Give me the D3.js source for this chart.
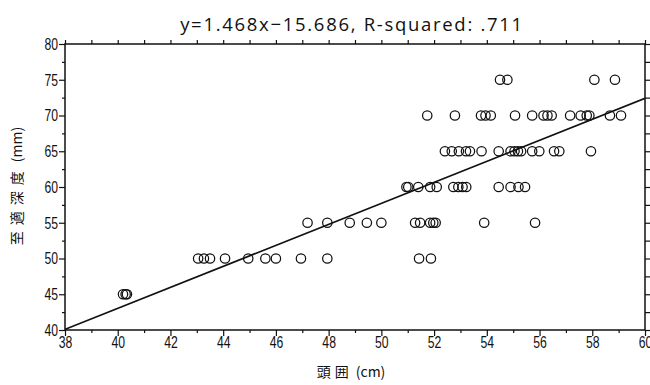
<!DOCTYPE html>
<html>
<head>
<meta charset="utf-8">
<script src="https://cdn.jsdelivr.net/npm/d3@7"></script>
<style>
  body { margin: 0; background: #fff; }
</style>
</head>
<body>
<svg id="chart" width="650" height="385"></svg>
<script>
// head circumference (cm) at each depth level (mm)
var depth45 = [40.2, 40.3, 40.35];
var depth50 = [43.05, 43.27, 43.5, 44.07, 44.95, 45.6, 46.0, 46.95, 47.95, 51.43, 51.88];
var depth55 = [47.2, 47.95, 48.8, 49.45, 50.0, 51.28, 51.47, 51.85, 51.97, 52.06, 53.9, 55.83];
var depth60 = [50.95, 51.02, 51.4, 51.85, 52.1, 52.73, 52.92, 53.08, 53.22, 54.45, 54.9, 55.2, 55.45];
var depth65 = [52.41, 52.67, 52.94, 53.21, 53.36, 53.8, 54.45, 54.9, 55.05, 55.18, 55.3, 55.72, 55.99, 56.55, 56.75, 57.95];
var depth70 = [51.74, 52.79, 53.78, 53.95, 54.15, 55.07, 55.72, 56.15, 56.3, 56.46, 57.16, 57.56, 57.79, 57.89, 58.67, 59.09];
var depth75 = [54.5, 54.78, 58.08, 58.86];

var depthLevels = [45, 50, 55, 60, 65, 70, 75];
var headByDepth = [depth45, depth50, depth55, depth60, depth65, depth70, depth75];

var slope = 1.468, intercept = -15.686;
var titleText = 'y=1.468x\u221215.686, R-squared: .711';
var xLabelParts = ['頭囲', ' (cm)'];
var yLabelParts = ['至適深度', ' (mm)'];

var xMajor = d3.range(38, 61, 2);
var xMinor = d3.range(39, 60, 2);
var yMajor = d3.range(40, 81, 5);
var yMinor = d3.range(42.5, 80, 5);

var margin = {left: 65, right: 5, top: 44, bottom: 55};
var width = 650, height = 385;
var svg = d3.select('#chart');

var x = d3.scaleLinear().domain([38, 60]).range([margin.left, width - margin.right]);
var y = d3.scaleLinear().domain([40, 80]).range([height - margin.bottom, margin.top]);

var points = [];
depthLevels.forEach(function(lv, i) {
  headByDepth[i].forEach(function(h) { points.push({x: h, y: lv}); });
});

// title
svg.append('text')
  .attr('x', 352).attr('y', 31)
  .attr('text-anchor', 'middle')
  .attr('font-family', '"Open Sans", sans-serif')
  .attr('font-size', 18.5)
  .attr('letter-spacing', 1.7)
  .attr('fill', '#111')
  .text(titleText);

function drawAxis(axis, transform, isMinor) {
  var g = svg.append('g').attr('transform', transform).call(axis);
  g.select('.domain').remove();
  g.selectAll('.tick line').attr('stroke', '#111').attr('stroke-width', 1.2);
  if (isMinor) g.selectAll('text').remove();
  g.selectAll('.tick text')
    .attr('font-family', '"Liberation Sans", Arial, sans-serif')
    .attr('font-size', 16.5)
    .attr('fill', '#111');
  return g;
}

var yb = height - margin.bottom, yt = margin.top;
var xl = margin.left, xr = width - margin.right;

// narrow-looking tick labels: squeeze horizontally
var xAxisG = drawAxis(d3.axisBottom(x).tickValues(xMajor).tickSize(6).tickPadding(0).tickFormat(d3.format('d')), 'translate(0,' + yb + ')');
xAxisG.selectAll('.tick text').attr('transform', 'scale(0.74,1)');
drawAxis(d3.axisBottom(x).tickValues(xMinor).tickSize(3), 'translate(0,' + yb + ')', true);
drawAxis(d3.axisTop(x).tickValues(xMajor.concat(xMinor)).tickSize(4), 'translate(0,' + yt + ')', true);
var yAxisG = drawAxis(d3.axisLeft(y).tickValues(yMajor).tickSize(6).tickPadding(1).tickFormat(d3.format('d')), 'translate(' + xl + ',0)');
yAxisG.selectAll('.tick text').attr('x', -9.5).attr('transform', 'scale(0.74,1)');
drawAxis(d3.axisLeft(y).tickValues(yMinor).tickSize(3), 'translate(' + xl + ',0)', true);
drawAxis(d3.axisRight(y).tickValues(yMajor.concat(yMinor)).tickSize(5), 'translate(' + xr + ',0)', true);

// frame
svg.append('rect')
  .attr('x', xl).attr('y', yt)
  .attr('width', xr - xl).attr('height', yb - yt)
  .attr('fill', 'none').attr('stroke', '#111').attr('stroke-width', 1.5);

// regression line
svg.append('defs').append('clipPath').attr('id', 'plotClip')
  .append('rect').attr('x', xl).attr('y', yt).attr('width', xr - xl).attr('height', yb - yt);
svg.append('line')
  .attr('clip-path', 'url(#plotClip)')
  .attr('x1', x(38)).attr('y1', y(slope * 38 + intercept))
  .attr('x2', x(60)).attr('y2', y(slope * 60 + intercept))
  .attr('stroke', '#111').attr('stroke-width', 1.7);

// points
svg.append('g').selectAll('circle')
  .data(points)
  .join('circle')
  .attr('cx', function(d) { return x(d.x); })
  .attr('cy', function(d) { return y(d.y); })
  .attr('r', 4.7)
  .attr('fill', 'none')
  .attr('stroke', '#111')
  .attr('stroke-width', 1.25);

// axis titles
function axisTitle(parts, transform, spacing) {
  var t = svg.append('text')
    .attr('transform', transform)
    .attr('text-anchor', 'middle')
    .attr('font-family', '"Noto Sans CJK JP", sans-serif')
    .attr('font-size', 14)
    .attr('fill', '#111');
  t.append('tspan').attr('letter-spacing', spacing).text(parts[0]);
  t.append('tspan').text(parts[1]);
}
axisTitle(xLabelParts, 'translate(351,377)', 4);
axisTitle(yLabelParts, 'translate(22,186) rotate(-90)', 6);
</script>
</body>
</html>
